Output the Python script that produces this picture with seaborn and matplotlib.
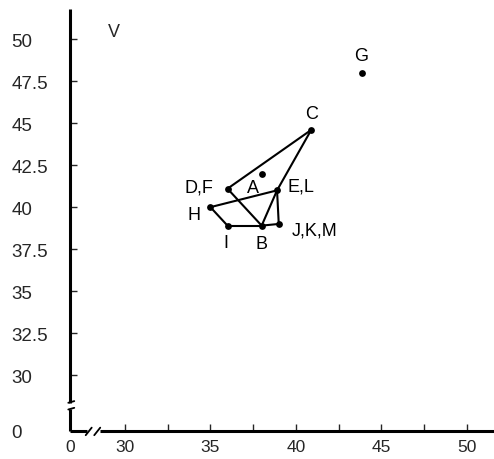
import matplotlib
matplotlib.use("Agg")
import matplotlib.pyplot as plt
import seaborn as sns
import pandas as pd

# data
labels = ["A", "B", "C", "D,F", "E,L", "G", "H", "I", "J,K,M"]
xs = [38.0, 38.0, 40.9, 36.0, 38.9, 43.9, 35.0, 36.0, 39.0]
ys = [42.0, 38.9, 44.6, 41.1, 41.0, 48.0, 40.0, 38.9, 39.0]
edges = [("C", "D,F"), ("C", "E,L"), ("D,F", "B"), ("H", "E,L"), ("H", "I"),
         ("I", "B"), ("B", "J,K,M"), ("E,L", "B"), ("E,L", "J,K,M")]
x_ticks = [30, 32.5, 35, 37.5, 40, 42.5, 45, 47.5, 50]
x_ticklabels = ["30", "", "35", "", "40", "", "45", "", "50"]
y_ticks = [30, 32.5, 35, 37.5, 40, 42.5, 45, 47.5, 50]
y_ticklabels = ["30", "32.5", "35", "37.5", "40", "42.5", "45", "47.5", "50"]
v_label = ("V", 29.36, 50.45)

sns.set_style("white")
plt.rcParams["font.family"] = ["Liberation Sans", "DejaVu Sans"]

df = pd.DataFrame({"label": labels, "x": xs, "y": ys})
pos = {l: (x, y) for l, x, y in zip(labels, xs, ys)}

fig = plt.figure(figsize=(4.94, 4.60), dpi=100)
ax = fig.add_axes([70 / 494, 28 / 460, 1 - 70 / 494, 422 / 460])

X0, X1 = 26.78, 51.6
Y0, Y1 = 26.67, 51.8
ax.set_xlim(X0, X1)
ax.set_ylim(Y0, Y1)

for a, b in edges:
    ax.plot([pos[a][0], pos[b][0]], [pos[a][1], pos[b][1]], color="black", lw=1.5, zorder=2)

sns.scatterplot(data=df, x="x", y="y", color="black", s=24, edgecolor="black",
                linewidth=0, ax=ax, zorder=3, legend=False)

FS_LAB = 13
offsets = {
    "A": (-9, -14),
    "B": (0, -18),
    "C": (0, 16),
    "D,F": (-29, 2),
    "E,L": (24, 4),
    "G": (-1, 17),
    "H": (-16, -7),
    "I": (-2, -17),
    "J,K,M": (36, -6),
}
for l, x, y in zip(labels, xs, ys):
    dx, dy = offsets[l]
    ax.annotate(l, (x, y), xytext=(dx, dy), textcoords="offset pixels",
                ha="center", va="center", fontsize=FS_LAB, color="black")
ax.text(v_label[1], v_label[2], v_label[0], fontsize=FS_LAB, ha="center", va="center")

ax.set_xlabel("")
ax.set_ylabel("")
for s in ax.spines.values():
    s.set_visible(False)

# axis lines with breaks
lw = 2.2
ax.plot([X0, X0], [Y0, 28.0], color="black", lw=lw, clip_on=False, solid_capstyle="butt")
ax.plot([X0, X0], [28.35, Y1], color="black", lw=lw, clip_on=False, solid_capstyle="butt")
ax.plot([X0, 27.8], [Y0, Y0], color="black", lw=lw, clip_on=False, solid_capstyle="butt")
ax.plot([28.55, X1], [Y0, Y0], color="black", lw=lw, clip_on=False, solid_capstyle="butt")
# break marks
ax.plot([X0 - 0.1, X0 + 0.25], [27.95, 28.05], color="black", lw=1.3, clip_on=False)
ax.plot([X0 - 0.1, X0 + 0.25], [28.35, 28.45], color="black", lw=1.3, clip_on=False)
ax.plot([27.7, 28.05], [Y0 - 0.25, Y0 + 0.2], color="black", lw=1.3, clip_on=False)
ax.plot([28.2, 28.55], [Y0 - 0.25, Y0 + 0.2], color="black", lw=1.3, clip_on=False)

ticks_x = [X0] + x_ticks
ax.set_xticks(ticks_x)
ax.set_xticklabels(["0"] + x_ticklabels, fontsize=12.5)
ax.set_yticks([Y0] + y_ticks)
ax.set_yticklabels(["0"] + y_ticklabels, fontsize=13.5)
ax.tick_params(axis="x", direction="in", length=5, width=1, pad=6, bottom=True)
ax.tick_params(axis="y", direction="in", length=5, width=1, pad=42, left=True)
for t in ax.yaxis.get_major_ticks():
    t.label1.set_horizontalalignment("left")
ax.xaxis.get_major_ticks()[0].tick1line.set_visible(False)
ax.yaxis.get_major_ticks()[0].tick1line.set_visible(False)
ax.grid(False)

fig.savefig("out.png", dpi=100)
